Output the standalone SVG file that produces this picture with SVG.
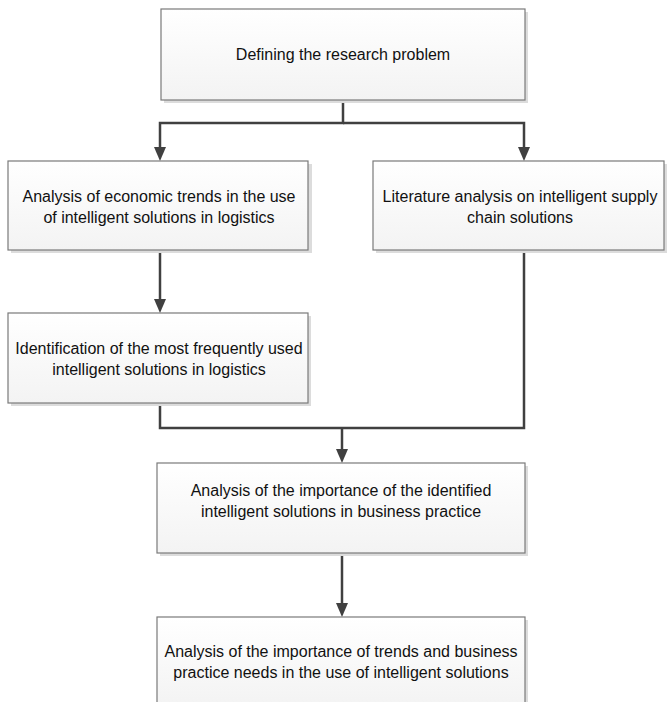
<svg xmlns="http://www.w3.org/2000/svg" width="667" height="702" viewBox="0 0 667 702">
<defs>
<linearGradient id="g" x1="0" y1="0" x2="0" y2="1">
<stop offset="0" stop-color="#ffffff"/>
<stop offset="1" stop-color="#f3f3f3"/>
</linearGradient>
</defs>
<style>
.box{fill:url(#g);stroke:#7a7a7a;stroke-width:1.2}
.sh{fill:#dcdcdc}
.t{font-family:"Liberation Sans",Arial,sans-serif;font-size:16px;fill:#111;text-anchor:middle}
.c{fill:none;stroke:#404040;stroke-width:2.5}
.a{fill:#404040}
</style>
<rect width="667" height="702" fill="#ffffff"/>
<g id="connectors">
<path class="c" d="M343,100 V123 H160 V147"/>
<path class="c" d="M343,123 H524 V147"/>
<path class="a" d="M154,147 H166 L160,161 Z"/>
<path class="a" d="M518,147 H530 L524,161 Z"/>
<path class="c" d="M160,250 V299"/>
<path class="a" d="M154,299 H166 L160,313 Z"/>
<path class="c" d="M160,403 V428 H524 V250"/>
<path class="c" d="M342,428 V449"/>
<path class="a" d="M336,449 H348 L342,463 Z"/>
<path class="c" d="M342,553 V603"/>
<path class="a" d="M336,603 H348 L342,617 Z"/>
</g>
<g id="n1">
<rect class="sh" x="164" y="12" width="364" height="91"/>
<rect class="box" x="161" y="9" width="364" height="91"/>
<text class="t" x="343" y="60">Defining the research problem</text>
</g>
<g id="n2">
<rect class="sh" x="11" y="164" width="301" height="89"/>
<rect class="box" x="8" y="161" width="300" height="89"/>
<text class="t" x="159" y="202">Analysis of economic trends in the use</text>
<text class="t" x="159" y="223">of intelligent solutions in logistics</text>
</g>
<g id="n3">
<rect class="sh" x="376" y="164" width="291" height="89"/>
<rect class="box" x="373" y="161" width="291" height="89"/>
<text class="t" x="520" y="202">Literature analysis on intelligent supply</text>
<text class="t" x="520" y="223">chain solutions</text>
</g>
<g id="n4">
<rect class="sh" x="11" y="316" width="300" height="90"/>
<rect class="box" x="8" y="313" width="300" height="90"/>
<text class="t" x="159" y="354">Identification of the most frequently used</text>
<text class="t" x="159" y="375">intelligent solutions in logistics</text>
</g>
<g id="n5">
<rect class="sh" x="160" y="466" width="368" height="90"/>
<rect class="box" x="157" y="463" width="368" height="90"/>
<text class="t" x="341" y="496">Analysis of the importance of the identified</text>
<text class="t" x="341" y="517">intelligent solutions in business practice</text>
</g>
<g id="n6">
<rect class="sh" x="160" y="620" width="368" height="90"/>
<rect class="box" x="157" y="617" width="368" height="90"/>
<text class="t" x="341" y="657">Analysis of the importance of trends and business</text>
<text class="t" x="341" y="678">practice needs in the use of intelligent solutions</text>
</g>
</svg>
